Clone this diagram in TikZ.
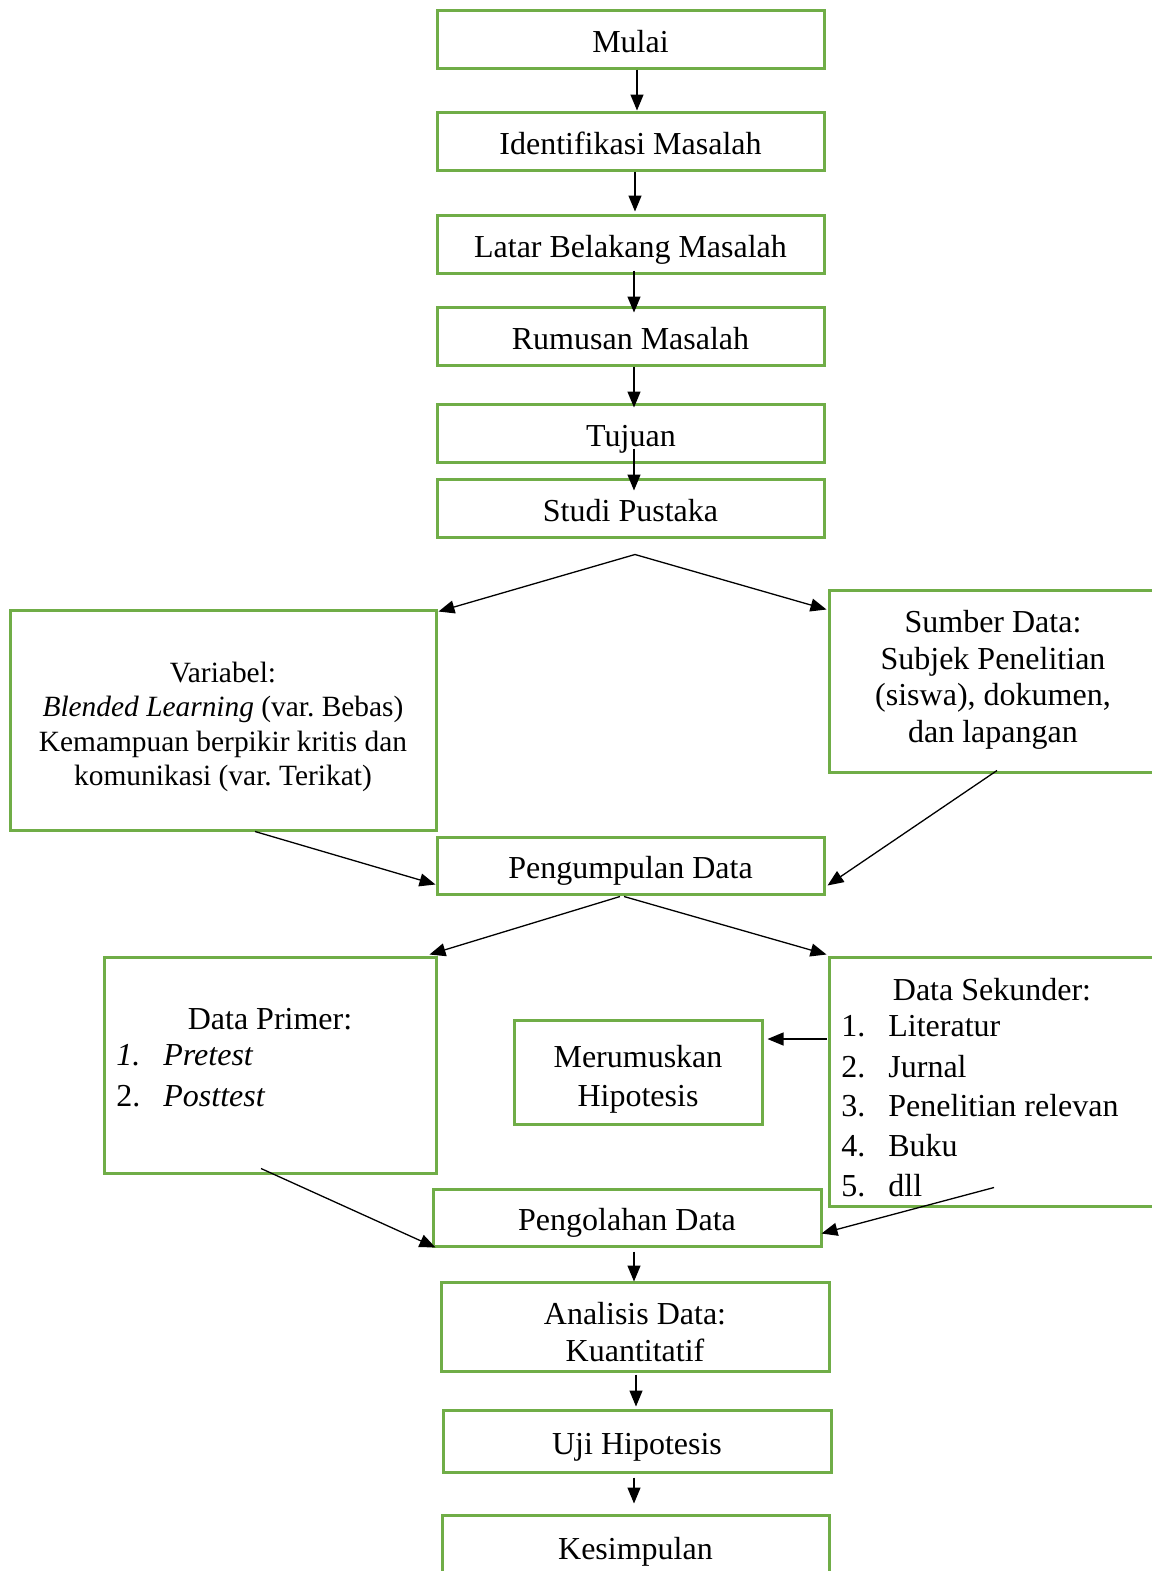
\documentclass[tikz,border=0pt]{standalone}
\usepackage{fontspec}
\setmainfont{Liberation Serif}
\usetikzlibrary{arrows.meta,calc}
\definecolor{boxgreen}{RGB}{112,173,71}
\tikzset{
  box/.style={draw=boxgreen, line width=1.5pt, inner sep=0pt, minimum width=193.5pt, minimum height=29pt, align=center, font=\fontsize{16}{18}\selectfont\frenchspacing},
  one/.style={text height=17pt, text depth=4pt},
  arr/.style={draw=black, line width=0.65pt, -{Triangle[length=8pt,width=6.5pt]}},
  ln/.style={font=\fontsize{16}{18}\selectfont\frenchspacing, inner sep=0pt},
}
\begin{document}
\begin{tikzpicture}[x=0.5pt,y=-0.5pt]
\useasboundingbox (0,0) rectangle (1152,1571);
\clip (0,0) rectangle (1152,1571);
% top chain
\node[box, one] (m) at (630.5,39) {Mulai};
\node[box, one] (i) at (630.5,141) {Identifikasi Masalah};
\node[box, one] (l) at (630.5,244) {Latar Belakang Masalah};
\node[box, one] (r) at (630.5,336) {Rumusan Masalah};
\node[box, one] (t) at (631,433) {Tujuan};
\node[box, one] (s) at (630.5,508) {Studi Pustaka};
% middle
\node[box, minimum width=213pt, minimum height=110pt] (v) at (223,720) {};
\node[ln, align=center, font=\fontsize{14.7}{17.2}\selectfont\frenchspacing] (vt) at ($(v.center)+(0,7)$)
  {Variabel:\\\textit{Blended Learning} (var. Bebas)\\Kemampuan berpikir kritis dan\\komunikasi (var. Terikat)};
\node[box, minimum width=168pt, minimum height=91pt] (sd) at (997,681) {};
\node[ln, align=center, font=\fontsize{16}{18.3}\selectfont] (sdt) at (993,680)
  {Sumber Data:\\Subjek Penelitian\\(siswa), dokumen,\\dan lapangan};
\node[box, one, minimum height=28.5pt] (pg) at (630.5,865.5) {Pengumpulan Data};
% lower middle
\node[box, minimum width=166pt, minimum height=108pt] (dp) at (270,1065) {};
\node[ln, anchor=base] (dpt) at (270,1029) {Data Primer:};
\node[ln, anchor=base west] (dp1n) at (116,1065) {\textit{1.}};
\node[ln, anchor=base west] (dp1) at (163,1065) {\textit{Pretest}};
\node[ln, anchor=base west] (dp2n) at (116,1106) {2.};
\node[ln, anchor=base west] (dp2) at (163,1106) {\textit{Posttest}};
\node[box, minimum width=168pt, minimum height=124.5pt] (ds) at (997,1081.5) {};
\node[ln, anchor=base] (dst) at (992,1000) {Data Sekunder:};
\node[ln, anchor=base west] (ds1n) at (841,1036) {1.};
\node[ln, anchor=base west] (ds1) at (888,1036) {Literatur};
\node[ln, anchor=base west] (ds2n) at (841,1077) {2.};
\node[ln, anchor=base west] (ds2) at (888,1077) {Jurnal};
\node[ln, anchor=base west] (ds3n) at (841,1116) {3.};
\node[ln, anchor=base west] (ds3) at (888,1116) {Penelitian relevan};
\node[ln, anchor=base west] (ds4n) at (841,1156) {4.};
\node[ln, anchor=base west] (ds4) at (888,1156) {Buku};
\node[ln, anchor=base west] (ds5n) at (841,1196) {5.};
\node[ln, anchor=base west] (ds5) at (888,1196) {dll};
\node[box, minimum width=124pt, minimum height=52pt] (mh) at (638,1072) {};
\node[ln, align=center, font=\fontsize{16}{19.5}\selectfont] (mht) at ($(mh.center)+(0,7)$) {Merumuskan\\Hipotesis};
% bottom chain
\node[box, one, minimum width=194pt, minimum height=28.5pt] (po) at (627,1217.5) {Pengolahan Data};
\node[box, minimum width=194pt, minimum height=44.5pt] (an) at (635,1326.5) {};
\node[ln, align=center, font=\fontsize{16}{18.5}\selectfont] (ant) at ($(an.center)+(0,6)$) {Analisis Data:\\Kuantitatif};
\node[box, one, minimum width=194pt, minimum height=31pt] (uj) at (637,1441) {Uji Hipotesis};
\node[box, one, minimum height=31pt] (ks) at (635.5,1546) {Kesimpulan};
% connectors top chain
\draw[arr] ($(m.south)+(6.5,0)$) -- ($(i.north)+(6.5,0)$);
\draw[arr] ($(i.south)+(4.5,0)$) -- ($(l.north)+(4.5,-2)$);
\draw[arr] ($(l.south)+(3.5,-4)$) -- ($(r.north)+(3.5,7)$);
\draw[arr] ($(r.south)+(3.5,0)$) -- ($(t.north)+(3,5)$);
\draw[arr] ($(t.south)+(3,-15)$) -- ($(s.north)+(3.5,13)$);
% branch from Studi Pustaka
\coordinate (b1) at ($(s.south)+(4.5,16)$);
\draw[arr] (b1) -- ($(v.north east)+(1,3)$);
\draw[arr] (b1) -- ($(sd.north west)+(-1,21)$);
% into Pengumpulan
\draw[arr] ($(v.south)+(32,0)$) -- ($(pg.south west)+(0,-11)$);
\draw[arr] ($(sd.south)+(0,-3)$) -- ($(pg.south east)+(2,-10)$);
% from Pengumpulan
\draw[arr] ($(pg.south)+(-10.5,1)$) -- ($(dp.north east)+(-8,-1)$);
\draw[arr] ($(pg.south)+(-6.5,1)$) -- ($(ds.north west)+(-1,-1)$);
% Data Sekunder to Merumuskan
\draw[arr] ($(ds.west)+(-1,-42.5)$) -- ($(mh.east)+(4,-33)$);
% into Pengolahan
\draw[arr] ($(dp.south)+(-9,-6)$) -- ($(po.south west)+(4,0)$);
\draw[arr] ($(ds.south)+(-3,-20)$) -- ($(po.south east)+(-1,-14)$);
% bottom chain
\draw[arr] ($(po.south)+(7,4)$) -- ($(an.north)+(-1,1)$);
\draw[arr] ($(an.south)+(1,2)$) -- ($(uj.north)+(-1,-2)$);
\draw[arr] ($(uj.south)+(-3,4)$) -- ($(ks.north)+(-1.5,-10)$);
\end{tikzpicture}
\end{document}
